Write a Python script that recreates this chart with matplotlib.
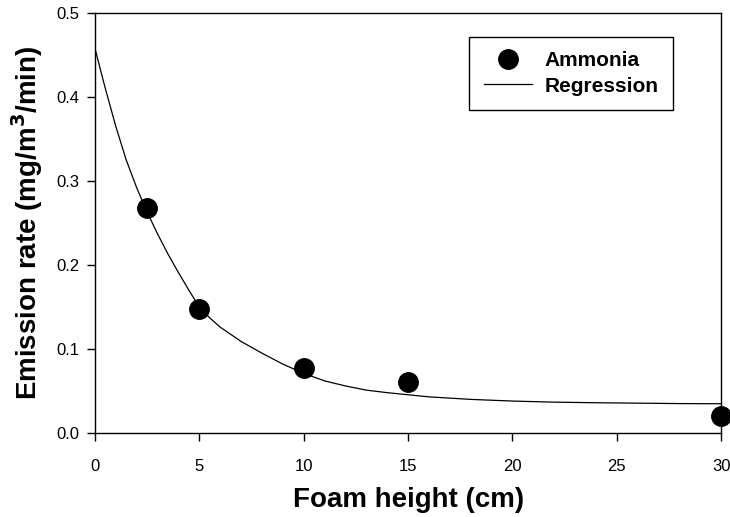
import matplotlib.pyplot as plt

plt.rcParams['font.family'] = ['Liberation Sans', 'DejaVu Sans']

# measured points
foam_height = [2.5, 5, 10, 15, 30]
ammonia = [0.268, 0.147, 0.077, 0.061, 0.020]

# regression curve
reg_x = [0, 0.5, 1, 1.5, 2, 2.5, 3, 3.5, 4, 4.5, 5, 5.5, 6, 7, 8, 9, 10,
         11, 12, 13, 14, 16, 18, 20, 22, 24, 26, 28, 30]
reg_y = [0.458, 0.410, 0.365, 0.325, 0.292, 0.263, 0.237, 0.213, 0.191,
         0.170, 0.150, 0.137, 0.126, 0.109, 0.095, 0.082, 0.071,
         0.062, 0.056, 0.051, 0.048, 0.043, 0.040, 0.038, 0.0367,
         0.036, 0.0355, 0.035, 0.0348]

x_ticks = [0, 5, 10, 15, 20, 25, 30]
y_ticks = [0.0, 0.1, 0.2, 0.3, 0.4, 0.5]

fig = plt.figure(figsize=(7.3, 5.17), dpi=100)
ax = fig.add_axes([0.130, 0.1625, 0.858, 0.8125])

ax.plot(foam_height, ammonia, 'o', color='black', markersize=14, label='Ammonia',
        clip_on=False, zorder=3)
ax.plot(reg_x, reg_y, '-', color='black', linewidth=0.9, label='Regression')

ax.set_xlim(0, 30)
ax.set_ylim(0, 0.5)
ax.set_xticks(x_ticks)
ax.set_yticks(y_ticks)
ax.set_xticklabels([str(t) for t in x_ticks])
ax.set_yticklabels([f'{t:.1f}' for t in y_ticks])
ax.tick_params(axis='x', direction='out', length=6, width=1, pad=13, labelsize=12)
ax.tick_params(axis='y', direction='out', length=6, width=1, pad=5, labelsize=12)
for s in ax.spines.values():
    s.set_linewidth(1.0)

ax.set_xlabel('Foam height (cm)', fontsize=20, fontweight='bold', labelpad=9)
ax.set_ylabel('Emission rate (mg/m$^\\mathbf{3}$/min)', fontsize=20, fontweight='bold',
              labelpad=8)

leg = ax.legend(loc='upper left', bbox_to_anchor=(0.598, 0.943), frameon=True,
                fancybox=False, edgecolor='black', framealpha=1,
                prop={'weight': 'bold', 'size': 15}, handlelength=2.3,
                borderpad=0.7, labelspacing=0.3, handletextpad=0.6,
                borderaxespad=0)
leg.get_frame().set_linewidth(1.0)

fig.savefig('out.png', dpi=100)
